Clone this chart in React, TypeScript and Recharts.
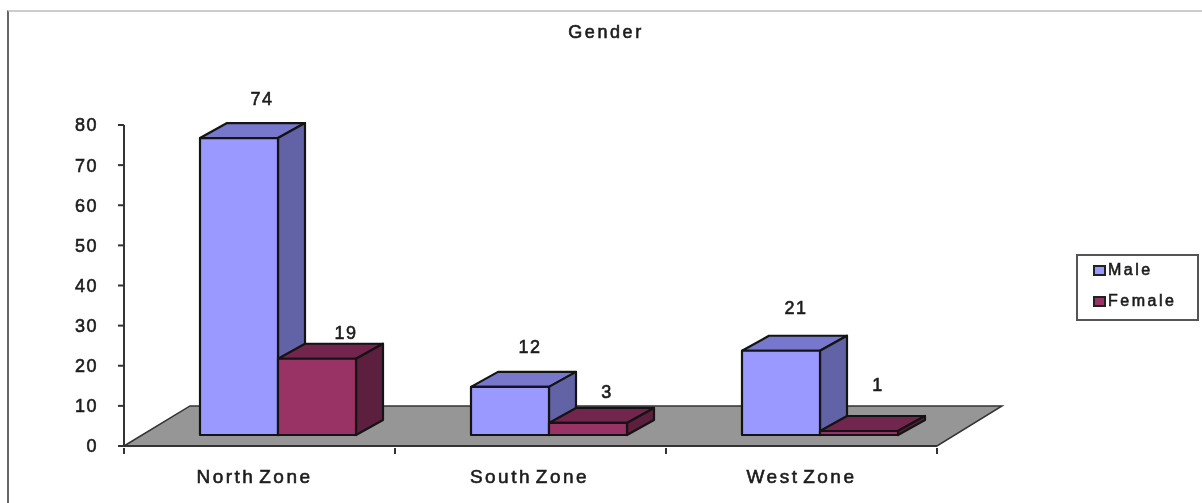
import { BarChart, Bar, XAxis, YAxis, Legend, LabelList, ReferenceArea } from "recharts";

const zones = ["North Zone", "South Zone", "West Zone"];
const maleValues = [74, 12, 21];
const femaleValues = [19, 3, 1];
const yTicks = [0, 10, 20, 30, 40, 50, 60, 70, 80];

const chartData = zones.map((zone, i) => ({ zone, Male: maleValues[i], Female: femaleValues[i] }));

const FONT = "'Liberation Sans', Arial, sans-serif";
const INK = "#1c1c1c";
// 3d look: how far the boxes sit off the axis and how deep they go
const SHIFT_X = 18;
const SHIFT_Y = 11;
const DEPTH_X = 27;
const DEPTH_Y = 15;

// hand placed label nudges, excel put these in slightly odd spots
const maleLabelNudge = [[23, -23], [20, -24], [15, -26]];
const femaleLabelNudge = [[29, -10], [19, -15], [19, -30]];
const zoneLabelNudge = [-5, -1, 0];

function Box3D(props: any) {
    const { x, y, width, height, front, top, side } = props;
    const l = x + SHIFT_X;
    const r = l + width;
    const t = y - SHIFT_Y;
    const b = t + height;
    return (
        <g stroke="#141414" strokeWidth={2.2} strokeLinejoin="round">
            <path d={`M${l},${t} L${l + DEPTH_X},${t - DEPTH_Y} L${r + DEPTH_X},${t - DEPTH_Y} L${r},${t} Z`} fill={top} />
            <path d={`M${r},${t} L${r + DEPTH_X},${t - DEPTH_Y} L${r + DEPTH_X},${b - DEPTH_Y} L${r},${b} Z`} fill={side} />
            <rect x={l} y={t} width={width} height={height} fill={front} />
        </g>
    );
}

function Floor(props: any) {
    const { x, y, width, height } = props;
    return (
        <path
            d={`M${x},${y + height} L${x + 66},${y} L${x + width + 65},${y} L${x + width},${y + height} Z`}
            fill="#969696"
            stroke="#333"
            strokeWidth={1.5}
        />
    );
}

function valueLabel(nudges: number[][]) {
    return (props: any) => {
        const { x, y, width, value, index } = props;
        const [dx, dy] = nudges[index];
        return (
            <text
                x={x + SHIFT_X + width / 2 + dx}
                y={y - SHIFT_Y - DEPTH_Y + dy}
                textAnchor="middle"
                dominantBaseline="middle"
                fontFamily={FONT}
                fontSize={18}
                letterSpacing={1.5}
                fill={INK}
                stroke={INK}
                strokeWidth={0.6}
            >
                {value}
            </text>
        );
    };
}

// category axis ticks go on the band edges, not the centres
function ZoneTick(props: any) {
    const { x, y, payload, index } = props;
    const half = 135.5;
    return (
        <g>
            <line x1={x - half} x2={x - half} y1={y - 8} y2={y - 2} stroke="#333" strokeWidth={2} />
            <line x1={x + half} x2={x + half} y1={y - 8} y2={y - 2} stroke="#333" strokeWidth={2} />
            <text
                x={x + zoneLabelNudge[index]}
                y={y + 27}
                textAnchor="middle"
                fontFamily={FONT}
                fontSize={19}
                letterSpacing={2.5}
                wordSpacing={-4}
                fill={INK}
                stroke={INK}
                strokeWidth={0.6}
            >
                {payload.value}
            </text>
        </g>
    );
}

function GenderLegend({ payload }: any) {
    return (
        <div style={{ width: 119, height: 63, border: "2px solid #555", background: "#fff", fontFamily: FONT, fontSize: 16, letterSpacing: 2.5, color: INK, WebkitTextStroke: "0.6px #1c1c1c" }}>
            {(payload || []).map((item: any) => (
                <div key={item.value} style={{ display: "flex", alignItems: "center", height: 22, marginTop: 3, marginBottom: 9, marginLeft: 15 }}>
                    <span style={{ width: 9, height: 7, border: "2px solid #222", background: item.color, marginRight: 2 }} />
                    {item.value}
                </div>
            ))}
        </div>
    );
}

export default function App() {
    return (
        <div style={{ position: "absolute", left: 0, top: 0, width: 1202, height: 503, background: "#fff", overflow: "hidden", filter: "blur(0.5px)" }}>
            <div style={{ position: "absolute", left: 7, top: 10, right: 0, bottom: 0, borderLeft: "2px solid #666", borderTop: "2px solid #ccc" }} />
            <div style={{ position: "absolute", left: 0, width: 1212, top: 22, textAlign: "center", fontFamily: FONT, fontSize: 18, letterSpacing: 2.6, color: INK, WebkitTextStroke: "0.6px #1c1c1c" }}>
                Gender
            </div>
            <BarChart
                width={1202}
                height={503}
                data={chartData}
                margin={{ top: 125, right: 265, bottom: 0, left: 64 }}
                barCategoryGap={58}
                barGap={0}
                style={{ position: "absolute", left: 0, top: 0 }}
            >
                <ReferenceArea y1={0} y2={10} shape={Floor} ifOverflow="visible" />
                <XAxis
                    dataKey="zone"
                    height={57}
                    axisLine={{ stroke: "#333", strokeWidth: 2 }}
                    tickLine={false}
                    tick={ZoneTick}
                    tickSize={8}
                    interval={0}
                />
                <YAxis
                    width={60}
                    domain={[0, 80]}
                    ticks={yTicks}
                    interval={0}
                    tickSize={6}
                    tickMargin={20}
                    axisLine={{ stroke: "#333", strokeWidth: 2 }}
                    tickLine={{ stroke: "#333", strokeWidth: 2 }}
                    tick={{ fontFamily: FONT, fontSize: 18, letterSpacing: 1.5, fill: INK, stroke: INK, strokeWidth: 0.6 }}
                />
                {/* vertical + center + middle keeps the legend from eating into the plot area */}
                <Legend
                    layout="vertical"
                    verticalAlign="middle"
                    align="center"
                    itemSorter={null}
                    content={GenderLegend}
                    wrapperStyle={{ left: 1076, top: 254, width: 123 }}
                />
                <Bar
                    dataKey="Male"
                    fill="#9999FF"
                    isAnimationActive={false}
                    shape={(p: any) => <Box3D {...p} front="#9999FF" top="#7777CC" side="#6262A6" />}
                >
                    <LabelList dataKey="Male" content={valueLabel(maleLabelNudge)} />
                </Bar>
                <Bar
                    dataKey="Female"
                    fill="#993366"
                    isAnimationActive={false}
                    shape={(p: any) => <Box3D {...p} front="#993366" top="#73264D" side="#5C1F3D" />}
                >
                    <LabelList dataKey="Female" content={valueLabel(femaleLabelNudge)} />
                </Bar>
            </BarChart>
        </div>
    );
}
